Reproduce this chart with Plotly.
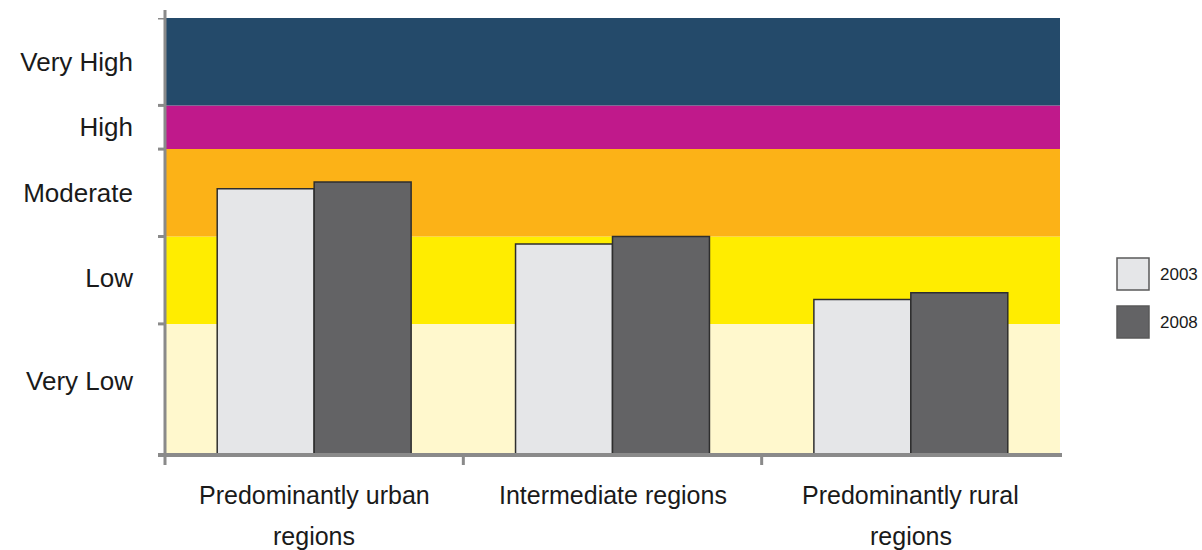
import plotly.graph_objects as go

# ---- data ----
categories = ["Predominantly urban regions", "Intermediate regions", "Predominantly rural regions"]
cat_line1 = ["Predominantly urban", "Intermediate regions", "Predominantly rural"]
cat_line2 = ["regions", "", "regions"]
values_2003 = [6.09, 4.83, 3.56]
values_2008 = [6.25, 5.00, 3.71]
series_names = ["2003", "2008"]

band_names = ["Very Low", "Low", "Moderate", "High", "Very High"]
band_edges = [0, 3, 5, 7, 8, 10]
band_label_pos = [1.7, 4.05, 6.0, 7.5, 9.0]
band_colors = ["#FFF8CD", "#FFED00", "#FCB217", "#C0198B", "#244A6A"]

bar_colors = ["#E5E6E8", "#636365"]
axis_grey = "#8A8A8A"
font_family = "Liberation Sans, Arial, sans-serif"
text_color = "#1A1A1A"

fig = go.Figure()
for name, vals, col in zip(series_names, [values_2003, values_2008], bar_colors):
    fig.add_trace(go.Bar(
        x=categories, y=vals, name=name,
        marker=dict(color=col, line=dict(color="#2E2E2E", width=1.5)),
        showlegend=False,
    ))

shapes = []
# background bands
for i, c in enumerate(band_colors):
    shapes.append(dict(type="rect", xref="paper", yref="y", x0=0, x1=1,
                       y0=band_edges[i], y1=band_edges[i + 1],
                       fillcolor=c, line=dict(width=0), layer="below"))
# y axis line
shapes.append(dict(type="line", xref="paper", yref="paper", x0=0, x1=0,
                   ysizemode="pixel", yanchor=0, y0=-10, y1=445,
                   line=dict(color=axis_grey, width=3), layer="above"))
# y ticks at band boundaries
for e in band_edges:
    shapes.append(dict(type="line", xref="paper", yref="y", xsizemode="pixel", xanchor=0,
                       x0=-7, x1=0, y0=e, y1=e,
                       line=dict(color=axis_grey, width=3), layer="above"))
# x axis line
shapes.append(dict(type="line", xref="paper", yref="paper", xsizemode="pixel", xanchor=0,
                   x0=-7, x1=897, y0=0, y1=0,
                   line=dict(color=axis_grey, width=4), layer="above"))
# x ticks at category boundaries
for b in [0.5, 1.5]:
    shapes.append(dict(type="line", xref="x", yref="paper", x0=b, x1=b,
                       ysizemode="pixel", yanchor=0, y0=-10, y1=0,
                       line=dict(color=axis_grey, width=3), layer="above"))
# custom legend boxes
for k, col in enumerate(bar_colors):
    shapes.append(dict(type="rect", xref="paper", yref="paper",
                       xsizemode="pixel", xanchor=1, x0=57, x1=89,
                       ysizemode="pixel", yanchor=0,
                       y0=165 - 48 * k, y1=197 - 48 * k,
                       fillcolor=col, line=dict(color="#5A5A5A", width=1.5)))

annotations = []
for cat, l1, l2 in zip(categories, cat_line1, cat_line2):
    annotations.append(dict(x=cat, xref="x", y=0, yref="paper", yanchor="middle",
                            yshift=-40, text=l1, showarrow=False,
                            font=dict(size=25, color=text_color, family=font_family)))
    if l2:
        annotations.append(dict(x=cat, xref="x", y=0, yref="paper", yanchor="middle",
                                yshift=-81, text=l2, showarrow=False,
                                font=dict(size=25, color=text_color, family=font_family)))
for k, name in enumerate(series_names):
    annotations.append(dict(x=1, xref="paper", xshift=98, xanchor="left",
                            y=0, yref="paper", yshift=181 - 48 * k, yanchor="middle",
                            text=name, showarrow=False,
                            font=dict(size=17, color=text_color, family=font_family)))

fig.update_layout(
    width=1202, height=550,
    margin=dict(l=165, r=142, t=18, b=95),
    paper_bgcolor="white", plot_bgcolor="white",
    barmode="group", bargap=0.35, bargroupgap=0,
    font=dict(family=font_family, color=text_color),
    shapes=shapes, annotations=annotations,
    xaxis=dict(showticklabels=False, ticks="", showline=False, showgrid=False,
               zeroline=False, range=[-0.5, 2.5]),
    yaxis=dict(range=[0, 10], tickmode="array", tickvals=band_label_pos, ticktext=band_names,
               ticks="", showline=False, showgrid=False, zeroline=False,
               ticklabelstandoff=31, tickfont=dict(size=26, color=text_color, family=font_family)),
    showlegend=False,
)

fig.write_html("out.html")
